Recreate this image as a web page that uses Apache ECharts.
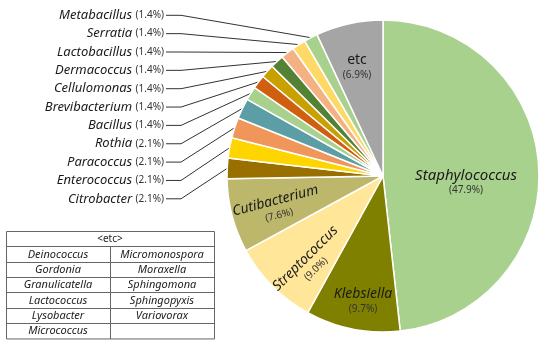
<!DOCTYPE html>
<html><head><meta charset="utf-8">
<script src="https://cdn.jsdelivr.net/npm/echarts@6/dist/echarts.min.js"></script>
<style>html,body{margin:0;padding:0;background:#fff}#c{width:550px;height:346px}</style>
</head><body><div id="c"></div>
<script>
const genera = ['Staphylococcus','Klebsiella','Streptococcus','Cutibacterium','Citrobacter','Enterococcus','Paracoccus','Rothia','Bacillus','Brevibacterium','Cellulomonas','Dermacoccus','Lactobacillus','Serratia','Metabacillus','etc'];
const percents = [47.9,9.7,9.0,7.6,2.1,2.1,2.1,2.1,1.4,1.4,1.4,1.4,1.4,1.4,1.4,6.9];
const colors = ['#a9d18e','#808000','#ffe699','#bdb76b','#997000','#ffd500','#f0965a','#5b9ea6','#a9d18e','#d0600f','#c8a000','#548235','#f4b183','#ffd966','#a9d18e','#a5a5a5'];
const etcLeft = ['Deinococcus','Gordonia','Granulicatella','Lactococcus','Lysobacter','Micrococcus'];
const etcRight = ['Micromonospora','Moraxella','Sphingomona','Sphingopyxis','Variovorax',''];
const etcTitle = '<etc>';

const FONT = '"Noto Sans", "Open Sans", sans-serif';
const CX = 383, CY = 176, R = 156;
// inside label anchor points (layout only)
const insidePos = {0:[466,182], 1:[363,301], 2:[310,263], 3:[277,207], 15:[357,67]};
const insideSet = new Set([0,1,2,3,15]);
const pct = v => '(' + Number(v).toFixed(1) + '%)';

const data = genera.map((g, i) => {
  const item = { name: g, value: percents[i], itemStyle: { color: colors[i] } };
  if (insideSet.has(i)) {
    item.label = {
      position: 'inside',
      rotate: (i === 2 || i === 3) ? 'radial' : 0,
      formatter: p => (p.name === 'etc' ? '{e|' + p.name + '}' : '{n' + (p.dataIndex === 0 ? 'b' : '') + '|' + p.name + '}') + '\n{p|' + pct(p.value) + '}',
      rich: {
        n: { fontFamily: FONT, fontStyle: 'italic', fontSize: 14, color: '#1a1a1a', lineHeight: 17 },
        nb: { fontFamily: FONT, fontStyle: 'italic', fontSize: 15, color: '#1a1a1a', lineHeight: 17 },
        e: { fontFamily: FONT, fontSize: 14, color: '#1a1a1a', lineHeight: 17 },
        p: { fontFamily: FONT, fontSize: 10, color: '#333', lineHeight: 13 }
      }
    };
    item.labelLine = { show: false };
  }
  return item;
});

// table graphics
const graphics = [];
const tx0 = 6, tx1 = 214, tmid = 110, ty0 = 231, rowH = 15.35;
const nRows = etcLeft.length + 1;
const lineStyle = { stroke: '#666', lineWidth: 1 };
graphics.push({ type: 'rect', shape: { x: tx0 + 0.5, y: ty0 + 0.5, width: tx1 - tx0, height: rowH * nRows }, style: { fill: 'none', stroke: '#666', lineWidth: 1 } });
for (let r = 1; r < nRows; r++) {
  const y = Math.round(ty0 + rowH * r) + 0.5;
  graphics.push({ type: 'line', shape: { x1: tx0 + 0.5, y1: y, x2: tx1 + 0.5, y2: y }, style: lineStyle });
}
graphics.push({ type: 'line', shape: { x1: tmid + 0.5, y1: Math.round(ty0 + rowH) + 0.5, x2: tmid + 0.5, y2: ty0 + rowH * nRows + 0.5 }, style: lineStyle });
graphics.push({ type: 'text', x: (tx0 + tx1) / 2, y: ty0 + rowH / 2 + 0.5, style: { text: etcTitle, fontFamily: FONT, fontSize: 10, fill: '#222', align: 'center', verticalAlign: 'middle' } });
etcLeft.forEach((t, i) => {
  graphics.push({ type: 'text', x: (tx0 + tmid) / 2, y: ty0 + rowH * (i + 1.5) + 0.5, style: { text: t, fontFamily: FONT, fontStyle: 'italic', fontSize: 11, fill: '#222', align: 'center', verticalAlign: 'middle' } });
});
etcRight.forEach((t, i) => {
  graphics.push({ type: 'text', x: (tmid + tx1) / 2, y: ty0 + rowH * (i + 1.5) + 0.5, style: { text: t, fontFamily: FONT, fontStyle: 'italic', fontSize: 11, fill: '#222', align: 'center', verticalAlign: 'middle' } });
});

const chart = echarts.init(document.getElementById('c'), null, { renderer: 'canvas' });
chart.setOption({
  animation: false,
  backgroundColor: '#fff',
  graphic: graphics,
  series: [{
    type: 'pie',
    center: [CX, CY],
    radius: [0, R],
    startAngle: 90,
    clockwise: true,
    avoidLabelOverlap: false,
    itemStyle: { borderColor: '#fff', borderWidth: 1.5 },
    label: {
      show: true,
      position: 'outside',
      formatter: p => '{n|' + p.name + '} {p|' + pct(p.value) + '}',
      rich: {
        n: { fontFamily: FONT, fontStyle: 'italic', fontSize: 13, color: '#1a1a1a' },
        p: { fontFamily: FONT, fontSize: 10, color: '#333' }
      }
    },
    labelLine: { show: true, length: 10, length2: 10, lineStyle: { color: '#333', width: 1 } },
    labelLayout: function (p) {
      const i = p.dataIndex;
      if (insideSet.has(i)) {
        const pos = insidePos[i];
        return { x: pos[0], y: pos[1] };
      }
      const y = 15.3 + 18.35 * (14 - i);
      const edge = p.labelLinePoints ? p.labelLinePoints[0] : [CX, CY];
      return {
        x: 164, y: y, align: 'right', verticalAlign: 'middle',
        labelLinePoints: [[166, y], [181, y], edge]
      };
    },
    data: data
  }]
});
</script></body></html>
